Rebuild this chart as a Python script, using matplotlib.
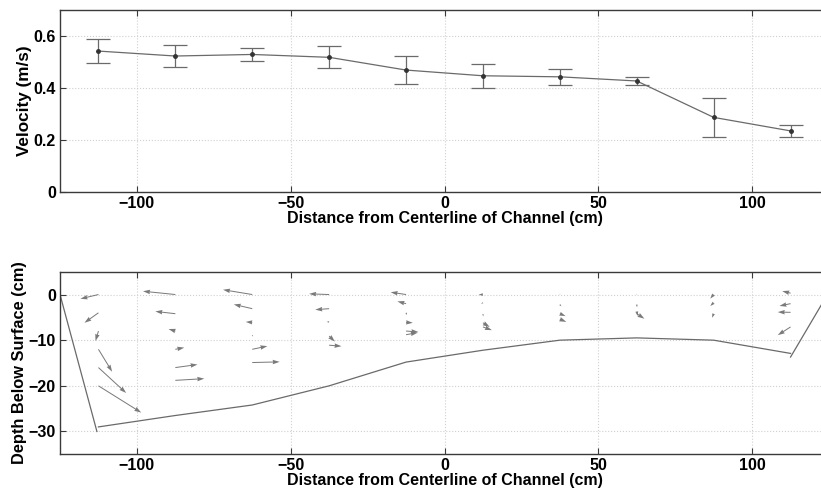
import matplotlib
matplotlib.use("Agg")
import matplotlib.pyplot as plt
import numpy as np

plt.rcParams['font.family'] = ['Liberation Sans', 'DejaVu Sans']
plt.rcParams['font.weight'] = 'bold'

# ---------------- data ----------------
stations = [-112.5, -87.5, -62.5, -37.5, -12.5, 12.5, 37.5, 62.5, 87.5, 112.5]
velocity = [0.542, 0.523, 0.529, 0.518, 0.469, 0.447, 0.443, 0.427, 0.287, 0.235]
vel_err = [0.046, 0.041, 0.026, 0.043, 0.054, 0.047, 0.032, 0.016, 0.076, 0.023]

bed_x = [-112.5, -87.5, -62.5, -37.5, -12.5, 12.5, 37.5, 62.5, 87.5, 112.5]
bed_depth = [-29.0, -26.5, -24.2, -20.0, -14.8, -12.2, -10.0, -9.5, -10.0, -12.9]
left_wall_x = [-125.0, -113.0]
left_wall_depth = [0.0, -30.0]
right_wall_x = [112.5, 124.5]
right_wall_depth = [-13.7, 0.0]

# velocity vectors in the cross section (tail x, tail depth, u, v)
vec_x = ([-112.5] * 6 + [-87.5] * 6 + [-62.5] * 6 + [-37.5] * 5 + [-12.5] * 6
         + [12.5] * 5 + [37.5] * 4 + [62.5] * 4 + [87.5] * 3 + [112.5] * 4)
vec_depth = [0, -4, -8, -12, -16, -20,
             0, -4.2, -8, -12, -16, -18.8,
             0, -3.1, -6.1, -8.9, -12, -14.9,
             0, -3.1, -6, -9.1, -11.1,
             0, -2, -4, -6.1, -8, -8.8,
             0, -1.8, -4.3, -6.2, -7.1,
             0, -2.2, -4.2, -5.4,
             0, -2.2, -3.7, -4.2,
             0, -1.8, -4.2,
             0.3, -2, -3.9, -7.1]
vec_u = [-5.84, -4.55, -0.97, 4.45, 9.0, 13.9,
         -10.5, -6.5, -2.2, 2.9, 7.2, 9.4,
         -9.5, -6.0, -2.1, 0.3, 4.9, 8.9,
         -6.5, -4.5, -0.8, 1.85, 4.0,
         -5.0, -2.8, 0.3, 2.2, 4.0, 3.8,
         -1.4, -0.6, 0.1, 2.2, 2.9,
         0.1, 0.5, 1.85, 2.1,
         0.05, 0.1, 0.3, 2.5,
         -1.1, -1.1, -0.5,
         -2.7, -3.6, -4.15, -4.15]
vec_v = [-0.94, -2.19, -2.19, -4.91, -5.57, -5.86,
         0.72, 0.5, 0.44, 0.37, 0.66, 0.37,
         1.05, 0.94, 0.1, -0.3, 0.7, 0.15,
         0.15, -0.22, 0.0, -1.2, -0.22,
         0.5, 0.5, -0.5, -0.1, -0.2, 0.45,
         -0.05, -0.2, -0.5, -0.9, -0.7,
         0.2, -0.4, -0.53, -0.6,
         0.2, -0.6, -1.0, -1.1,
         -0.9, -0.72, -0.9,
         0.45, -0.5, 0.05, -1.8]

x_ticks = [-100, -50, 0, 50, 100]
x_ticklabels = ['\u2212100', '\u221250', '0', '50', '100']
vel_ticks = [0, 0.2, 0.4, 0.6]
vel_ticklabels = ['0', '0.2', '0.4', '0.6']
depth_ticks = [-30, -20, -10, 0]
depth_ticklabels = ['\u221230', '\u221220', '\u221210', '0']
xlabel = 'Distance from Centerline of Channel (cm)'

# ---------------- figure ----------------
fig = plt.figure(figsize=(8.21, 4.92), dpi=100)
W, H = 821.0, 492.0
ax1 = fig.add_axes([60 / W, (H - 192) / H, 769 / W, 182 / H])
ax2 = fig.add_axes([60 / W, (H - 454.3) / H, 769 / W, 182.6 / H])

spine_c = '#3a3a3a'
line_c = '#6a6a6a'

def style(ax):
    for s in ax.spines.values():
        s.set_color(spine_c)
        s.set_linewidth(1.0)
    ax.tick_params(direction='in', top=True, right=True, length=4,
                   color=spine_c, labelsize=11.5, pad=3)
    for lab in ax.get_xticklabels() + ax.get_yticklabels():
        lab.set_fontweight('bold')
    ax.grid(True, linestyle=':', color='#d0d0d0', linewidth=0.8)
    ax.set_axisbelow(True)

# top panel
ax1.errorbar(stations, velocity, yerr=vel_err, color=line_c, ecolor=line_c,
             elinewidth=0.9, capsize=8.6, capthick=0.9, linewidth=0.9,
             marker='.', markersize=5, markerfacecolor='#333333',
             markeredgecolor='#333333')
ax1.set_xlim(-125, 125)
ax1.set_ylim(0, 0.7)
ax1.set_xticks(x_ticks)
ax1.set_xticklabels(x_ticklabels)
ax1.set_yticks(vel_ticks)
ax1.set_yticklabels(vel_ticklabels)
ax1.set_xlabel(xlabel, fontsize=11.5, fontweight='bold', labelpad=0)
ax1.set_ylabel('Velocity (m/s)', fontsize=12.3, fontweight='bold', labelpad=1)
style(ax1)

# bottom panel
ax2.plot(left_wall_x, left_wall_depth, color=line_c, linewidth=0.9)
ax2.plot(bed_x, bed_depth, color=line_c, linewidth=0.9)
ax2.plot(right_wall_x, right_wall_depth, color=line_c, linewidth=0.9)
ax2.quiver(vec_x, vec_depth, vec_u, vec_v, angles='xy', scale_units='xy',
           scale=1, color='#7a7a7a', width=0.0013, headwidth=4.5,
           headlength=7, headaxislength=6.5, minlength=0.2)
ax2.set_xlim(-125, 125)
ax2.set_ylim(-35, 5)
ax2.set_xticks(x_ticks)
ax2.set_xticklabels(x_ticklabels)
ax2.set_yticks(depth_ticks)
ax2.set_yticklabels(depth_ticklabels)
ax2.set_xlabel(xlabel, fontsize=11.5, fontweight='bold', labelpad=0)
ax2.set_ylabel('Depth Below Surface (cm)', fontsize=11.8, fontweight='bold',
               labelpad=1)
style(ax2)

fig.savefig('out.png', dpi=100)
